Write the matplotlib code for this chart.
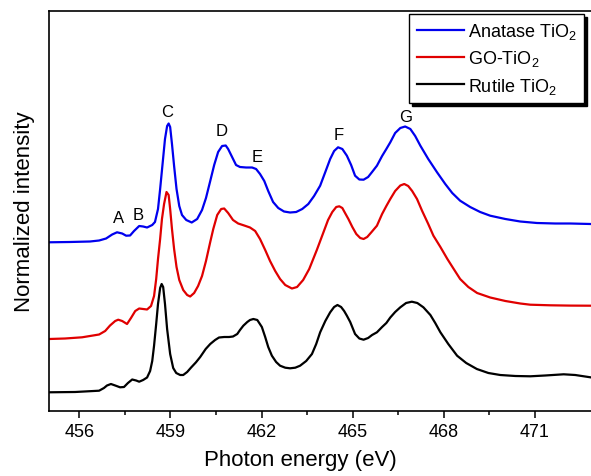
import numpy as np
import matplotlib
matplotlib.use("Agg")
import matplotlib.pyplot as plt

plt.rcParams['font.family'] = ['Liberation Sans', 'DejaVu Sans']
plt.rcParams['mathtext.default'] = 'regular'

# --- data (photon energy in eV, intensity in a.u., curves offset) ---
e_anatase = [455.00, 455.69, 456.35, 456.65, 456.88, 457.08, 457.24, 457.41, 457.54, 457.67,
             457.80, 457.97, 458.10, 458.23, 458.40, 458.49, 458.59, 458.66, 458.74, 458.82,
             458.89, 458.94, 458.99, 459.05, 459.12, 459.20, 459.29, 459.38, 459.52, 459.70,
             459.88, 460.04, 460.17, 460.31, 460.44, 460.57, 460.70, 460.82, 460.90, 461.03,
             461.16, 461.29, 461.49, 461.69, 461.82, 461.95, 462.09, 462.22, 462.38, 462.55,
             462.74, 462.94, 463.14, 463.34, 463.54, 463.73, 463.93, 464.10, 464.26, 464.39,
             464.52, 464.66, 464.81, 464.95, 465.08, 465.22, 465.36, 465.51, 465.64, 465.80,
             465.97, 466.11, 466.24, 466.40, 466.57, 466.73, 466.90, 467.06, 467.23, 467.49,
             467.78, 468.05, 468.28, 468.54, 468.87, 469.20, 469.53, 470.03, 470.52, 471.07,
             471.67, 472.17, 472.83]
i_anatase = [168.7, 169, 169.5, 170.5, 172.5, 176.5, 178.7, 177.5, 175.3, 175.5,
             180, 185, 184.5, 183.5, 186, 189, 202, 222, 247, 272,
             285, 287.5, 284, 267, 245, 222, 205, 196, 191, 188.5,
             192, 201, 213, 230, 246, 259, 265, 265.5, 262, 254,
             246, 244, 243.5, 243.5, 242, 237, 230, 220, 209, 203,
             199.5, 198.5, 199, 202, 207, 215, 225.3, 239, 252, 260,
             263.7, 262, 255.3, 246, 235.3, 231.5, 231.3, 234, 239, 245.3,
             255, 262, 268.7, 278, 283, 284.5, 282, 275, 265.3, 252,
             238.7, 227, 218, 210.3, 204, 199, 195.3, 192, 189.5, 188,
             187.5, 187.5, 187]

e_go = [455.00, 455.53, 456.09, 456.65, 456.85, 457.01, 457.18, 457.28, 457.41, 457.57,
        457.70, 457.84, 457.97, 458.10, 458.23, 458.36, 458.46, 458.53, 458.59, 458.66,
        458.72, 458.79, 458.87, 458.94, 458.99, 459.05, 459.12, 459.20, 459.29, 459.42,
        459.55, 459.65, 459.78, 459.91, 460.04, 460.17, 460.31, 460.41, 460.54, 460.67,
        460.77, 460.90, 461.06, 461.23, 461.43, 461.62, 461.79, 461.95, 462.12, 462.28,
        462.45, 462.61, 462.78, 463.00, 463.17, 463.37, 463.57, 463.82, 464.03, 464.19,
        464.33, 464.46, 464.56, 464.66, 464.75, 464.86, 464.99, 465.12, 465.25, 465.36,
        465.48, 465.61, 465.80, 465.97, 466.11, 466.24, 466.40, 466.57, 466.70, 466.83,
        466.96, 467.12, 467.29, 467.49, 467.66, 467.89, 468.12, 468.35, 468.54, 468.81,
        469.10, 469.53, 470.03, 470.52, 470.85, 471.51, 472.17, 472.83]
i_go = [72, 72.5, 73.7, 76.5, 80, 85.5, 90, 91.3, 90, 87,
        93, 100, 102.5, 102, 101.5, 105, 115, 132, 152, 172,
        192, 207, 219, 216, 202, 182, 162, 144, 131, 121,
        116, 114.5, 118, 125, 135, 150, 169, 182, 196, 202,
        202.5, 198, 191, 187.5, 185.5, 183.5, 180, 172, 161, 150,
        140, 132, 126, 122.5, 124, 131, 142, 161, 178, 191,
        199, 204, 204.7, 203, 198, 192, 184, 177, 173, 172,
        174, 178.5, 185.3, 197, 205, 212, 220, 225.5, 227, 225,
        220, 212, 200, 187, 175.3, 164, 152, 141, 132, 124,
        118, 113.5, 110, 107.5, 106.3, 105.7, 105.4, 105.3]

e_rutile = [455.00, 455.86, 456.65, 456.81, 456.91, 457.04, 457.18, 457.34, 457.47, 457.60,
            457.74, 457.87, 457.97, 458.10, 458.23, 458.33, 458.40, 458.46, 458.53, 458.59,
            458.66, 458.71, 458.76, 458.82, 458.89, 458.99, 459.09, 459.19, 459.32, 459.42,
            459.55, 459.68, 459.84, 459.98, 460.16, 460.31, 460.47, 460.60, 460.77, 460.93,
            461.06, 461.20, 461.29, 461.40, 461.53, 461.62, 461.73, 461.86, 462.01, 462.12,
            462.22, 462.34, 462.48, 462.61, 462.78, 462.94, 463.11, 463.27, 463.47, 463.66,
            463.80, 463.93, 464.10, 464.26, 464.39, 464.50, 464.62, 464.72, 464.81, 464.92,
            465.08, 465.22, 465.36, 465.51, 465.64, 465.80, 465.97, 466.11, 466.24, 466.40,
            466.57, 466.76, 466.95, 467.13, 467.33, 467.56, 467.72, 467.89, 468.15, 468.44,
            468.74, 469.09, 469.47, 469.86, 470.36, 470.85, 471.34, 471.95, 472.33, 472.83]
i_rutile = [18.7, 19, 20.3, 23, 25.5, 27, 25.5, 23.7, 24, 28,
            31.5, 30.5, 29.3, 31, 33.5, 40, 50, 65.3, 87, 107,
            123, 127, 124, 107, 82, 57, 43, 38, 36, 36,
            39, 43.5, 48.7, 54, 62, 67, 71, 73.5, 74, 74,
            74.5, 77, 81, 85.3, 89, 91, 92, 91, 84, 74,
            64, 55.3, 49, 45.3, 43.3, 42.7, 43.3, 45.3, 50, 57,
            67, 78.7, 90, 98.7, 104, 106, 104, 100, 95.3, 89,
            77, 72.5, 71.3, 73, 76, 78.7, 84, 88, 93.5, 99,
            103.7, 108, 109.3, 108, 103.7, 96, 88, 78.7, 67, 55.3,
            48, 42, 38, 36, 35, 34.7, 35.5, 36.7, 36, 33.7]

peak_letters = ['A', 'B', 'C', 'D', 'E', 'F', 'G']
peak_e = [457.29, 457.94, 458.90, 460.69, 461.87, 464.53, 466.73]
peak_y = [193.7, 197, 299.3, 280.3, 254.7, 276, 294.7]

fig = plt.figure(figsize=(5.91, 4.77), dpi=100)
ax = fig.add_axes([49 / 591, 65 / 477, 542 / 591, 400 / 477])

ax.plot(e_anatase, i_anatase, color='#0000ee', lw=1.6, label='Anatase TiO$_2$')
ax.plot(e_go, i_go, color='#e00000', lw=1.6, label='GO-TiO$_2$')
ax.plot(e_rutile, i_rutile, color='black', lw=1.6, label='Rutile TiO$_2$')

for lab, x, y in zip(peak_letters, peak_e, peak_y):
    ax.text(x, y, lab, fontsize=12, ha='center', va='center')

ax.set_xlim(455.0, 472.85)
ax.set_ylim(0, 400)
ax.set_xticks(np.arange(456, 472, 3))
ax.set_xticks(np.arange(457.5, 472, 3), minor=True)
ax.set_yticks([])
ax.tick_params(axis='x', which='major', direction='out', length=5, width=1.1, labelsize=13, pad=4)
ax.tick_params(axis='x', which='minor', direction='out', length=3, width=1.1)
for sp in ax.spines.values():
    sp.set_linewidth(1.2)
ax.spines['right'].set_visible(False)

ax.set_xlabel('Photon energy (eV)', fontsize=16, labelpad=7)
ax.xaxis.set_label_coords(0.464, -0.095)
ax.set_ylabel('Normalized intensity', fontsize=16, labelpad=10)

leg = ax.legend(loc='upper right', bbox_to_anchor=(0.987, 0.9925), borderaxespad=0,
                fontsize=13, frameon=True, fancybox=False, edgecolor='black',
                handlelength=2.6, handletextpad=0.25, labelspacing=0.4, borderpad=0.4,
                shadow={'color': 'black', 'alpha': 1.0})
leg.get_frame().set_linewidth(1.0)

fig.savefig('out.png', dpi=100)
